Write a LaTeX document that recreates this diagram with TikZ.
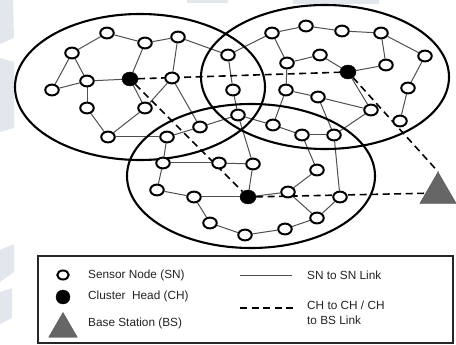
\documentclass[tikz,border=0pt]{standalone}
\usepackage{fontspec}
\setmainfont{Liberation Sans}
\usetikzlibrary{shapes.geometric}
\definecolor{linkgray}{RGB}{80,80,80}
\definecolor{bsgray}{RGB}{102,102,102}
\definecolor{txtgray}{RGB}{35,35,35}
\definecolor{wm}{RGB}{226,231,238}
\pgfdeclarelayer{bg}
\pgfdeclarelayer{links}
\pgfsetlayers{bg,links,main}
\begin{document}
\begin{tikzpicture}[x=1pt,y=-1pt,
  sn/.style={ellipse,draw=black,line width=2pt,fill=white,minimum width=13.5pt,minimum height=10.8pt,inner sep=0pt},
  ch/.style={ellipse,draw=black,fill=black,minimum width=16pt,minimum height=14pt,inner sep=0pt},
  bs/.style={regular polygon,regular polygon sides=3,fill=bsgray,draw=bsgray!85!black,line width=0.4pt,minimum size=42pt,inner sep=0pt},
  link/.style={draw=linkgray,line width=1pt},
  chlink/.style={draw=black,line width=1.6pt,dash pattern=on 7pt off 4.5pt},
  cluster/.style={draw=black,line width=2.1pt},
  legtext/.style={font=\fontsize{11.8}{15}\selectfont,text=txtgray,anchor=west,inner sep=0pt,align=left}
]
\useasboundingbox (0,0) rectangle (456,345);
\begin{pgfonlayer}{bg}
\fill[white] (0,0) rectangle (456,345);
\fill[wm] (0,0) -- (13,0) -- (14,38) -- (0,44) -- cycle;
\fill[wm] (0,58) -- (14,62) -- (14,128) -- (0,132) -- cycle;
\fill[wm] (0,250) -- (14,244) -- (14,272) -- (0,282) -- cycle;
\fill[wm] (0,292) -- (12,288) -- (12,318) -- (0,324) -- cycle;
\fill[wm] (187,0) rectangle (228,3);
\fill[wm] (293,0) rectangle (379,4);
\end{pgfonlayer}

% clusters
\draw[cluster] (140,87) ellipse [x radius=125, y radius=73];
\draw[cluster] (325,77) ellipse [x radius=124, y radius=72];
\draw[cluster] (251,176) ellipse [x radius=124, y radius=72];

% nodes
\node[sn] (a1) at (107,33) {};
\node[sn] (a2) at (145,43) {};
\node[sn] (a3) at (178,37) {};
\node[sn] (a4) at (72,53) {};
\node[sn] (a5) at (52,90) {};
\node[sn] (a6) at (87,81) {};
\node[ch] (ch1) at (130,79) {};
\node[sn] (a7) at (172,78) {};
\node[sn] (a8) at (87,108) {};
\node[sn] (a9) at (145,108) {};
\node[sn] (a10) at (108,137) {};
\node[sn] (a11) at (167,137) {};
\node[sn] (a12) at (200,127) {};
\node[sn] (a13) at (163,163) {};
\node[sn] (a14) at (219,163) {};
\node[sn] (b1) at (228,55) {};
\node[sn] (b2) at (272,33) {};
\node[sn] (b3) at (306,26) {};
\node[sn] (b7) at (342,31) {};
\node[sn] (b8) at (381,33) {};
\node[sn] (b9) at (425,56) {};
\node[sn] (b10) at (320,55) {};
\node[sn] (b4) at (287,63) {};
\node[ch] (ch2) at (348,72) {};
\node[sn] (b11) at (386,65) {};
\node[sn] (b12) at (408,88) {};
\node[sn] (b5) at (233,90) {};
\node[sn] (b6) at (286,90) {};
\node[sn] (b13) at (318,97) {};
\node[sn] (b14) at (371,110) {};
\node[sn] (b15) at (400,121) {};
\node[sn] (c1) at (238,115) {};
\node[sn] (c2) at (273,125) {};
\node[sn] (c3) at (302,135) {};
\node[sn] (c4) at (334,135) {};
\node[sn] (c5) at (253,164) {};
\node[sn] (c6) at (317,170) {};
\node[sn] (d1) at (157,190) {};
\node[sn] (d2) at (194,197) {};
\node[ch] (ch3) at (248,197) {};
\node[sn] (d3) at (288,192) {};
\node[sn] (d4) at (210,223) {};
\node[sn] (d5) at (245,235) {};
\node[sn] (d6) at (285,229) {};
\node[sn] (d7) at (317,218) {};
\node[sn] (d8) at (340,197) {};
\node[bs] (bs) at (438,193) {};

% links (drawn behind nodes)
\begin{pgfonlayer}{links}
\foreach \u/\v in {a4/a1,a1/a2,a2/a3,a3/b1,a4/a5,a4/a6,a5/a6,a6/ch1,a2/ch1,ch1/a9,
  a3/a7,a7/a9,a7/a12,a6/a8,a8/a10,a9/a10,a10/a11,a11/a12,a11/a13,a13/a14,a14/c5,a12/c1,
  b1/b2,b2/b3,b3/b7,b7/b8,b8/b9,b8/b11,b2/b4,b4/b10,b10/ch2,ch2/b11,b9/b12,b12/b15,ch2/b14,
  b1/b5,b4/b6,b5/c1,b6/b13,b13/b14,b6/c2,b13/c4,b14/c4,c1/c2,c2/c3,c3/c4,c1/c5,c3/c6,c4/d8,
  c5/ch3,a13/d1,d1/d2,d2/ch3,ch3/d3,c6/d3,d3/d7,d7/d8,d2/d4,d4/d5,d5/d6,d6/d7}
  \draw[link] (\u) -- (\v);
\draw[chlink] (ch1) -- (ch2);
\draw[chlink] (ch1) -- (ch3);
\draw[chlink] (ch2) -- (bs.corner 1);
\draw[chlink] (ch3) -- (bs);
\end{pgfonlayer}

% legend
\draw[line width=1.3pt,draw=black!85] (38,256) rectangle (453,343);
\node[sn,minimum width=11.5pt,minimum height=9pt] (lsn) at (63,275) {};
\node[ch,minimum width=14pt,minimum height=14pt] (lch) at (63,297) {};
\node[bs,minimum size=33pt] (lbs) at (63,329) {};
\node[legtext] (t1) at (88,275) {Sensor Node (SN)};
\node[legtext] (t2) at (88,296) {Cluster\ \ Head (CH)};
\node[legtext] (t3) at (88,323) {Base Station (BS)};
\coordinate (l1a) at (240,275);
\coordinate (l1b) at (292,275);
\draw[link] (l1a) -- (l1b);
\coordinate (l2a) at (240,308);
\coordinate (l2b) at (293,308);
\draw[chlink] (l2a) -- (l2b);
\node[legtext] (t4) at (307,275) {SN to SN Link};
\node[legtext] (t5) at (307,313) {CH to CH / CH\\to BS Link};
\end{tikzpicture}
\end{document}
